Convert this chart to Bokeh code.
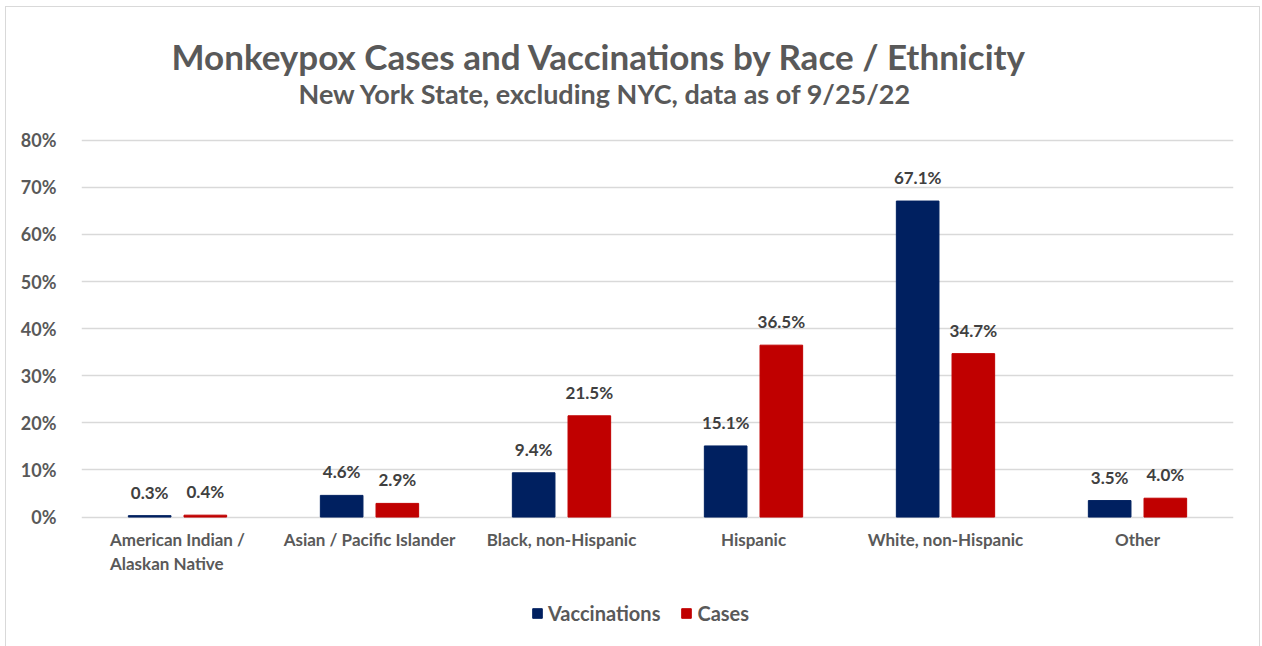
from bokeh.plotting import figure
from bokeh.models import (ColumnDataSource, FactorRange, Range1d, LabelSet, Label, Legend,
                          LegendItem, PrintfTickFormatter, FixedTicker)
from bokeh.core.properties import value
from bokeh.transform import dodge
from bokeh.embed import file_html
from bokeh.resources import INLINE

categories = ["American Indian /\nAlaskan Native", "Asian / Pacific Islander",
              "Black, non-Hispanic", "Hispanic", "White, non-Hispanic", "Other"]
vaccinations = [0.3, 4.6, 9.4, 15.1, 67.1, 3.5]
cases = [0.4, 2.9, 21.5, 36.5, 34.7, 4.0]
y_ticks = [0, 10, 20, 30, 40, 50, 60, 70, 80]
series_names = ["Vaccinations", "Cases"]
title_text = "Monkeypox Cases and Vaccinations by Race / Ethnicity"
subtitle_text = "New York State, excluding NYC, data as of 9/25/22"

FONT = "Lato"
GRAY = "#595959"
NAVY = "#002060"
RED = "#C00000"

src = ColumnDataSource(dict(
    cat=categories,
    vac=vaccinations,
    cas=cases,
    vac_lbl=[f"{v:.1f}%" for v in vaccinations],
    cas_lbl=[f"{v:.1f}%" for v in cases],
))

# the frame spans the full height; axis labels, legend and titles live inside it
p = figure(width=1255, height=640, x_range=FactorRange(*categories, range_padding=0),
           y_range=Range1d(-27.7, 108.2), output_backend="svg", toolbar_location=None,
           x_axis_location=None,
           min_border_left=75, min_border_right=28, min_border_top=0, min_border_bottom=0)
p.margin = (6, 0, 0, 5)
p.styles = {"border-top": "1px solid #d9d9d9", "border-left": "1px solid #d9d9d9",
            "border-right": "1px solid #d9d9d9"}
p.outline_line_color = None

off = 0.145
w = 0.222
r1 = p.vbar(x=dodge("cat", -off, range=p.x_range), top="vac", width=w, source=src,
            fill_color=NAVY, line_color=NAVY)
r2 = p.vbar(x=dodge("cat", off, range=p.x_range), top="cas", width=w, source=src,
            fill_color=RED, line_color=RED)

for col, lbl, d in (("vac", "vac_lbl", -off), ("cas", "cas_lbl", off)):
    ls = LabelSet(x=dodge("cat", d, range=p.x_range), y=col, text=lbl, source=src,
                  text_align="center", text_baseline="bottom", y_offset=13,
                  text_font=value(FONT), text_font_style="bold", text_font_size="17px",
                  text_color="#404040")
    p.add_layout(ls)

# category labels under the zero line
cat_labels = LabelSet(x="cat", y=0, text="cat", source=src,
                      text_align="center", text_baseline="top", y_offset=-12,
                      text_font=value(FONT), text_font_style="bold", text_font_size="17px",
                      text_color=GRAY, text_line_height=1.12)
p.add_layout(cat_labels)

# y axis
p.yaxis.ticker = FixedTicker(ticks=y_ticks)
p.yaxis.formatter = PrintfTickFormatter(format="%d%%")
p.yaxis.axis_line_color = None
p.yaxis.major_tick_line_color = None
p.yaxis.minor_tick_line_color = None
p.yaxis.major_label_standoff = 19
p.yaxis.major_label_text_font = FONT
p.yaxis.major_label_text_font_style = "bold"
p.yaxis.major_label_text_font_size = "18px"
p.yaxis.major_label_text_color = GRAY

p.xgrid.grid_line_color = None
p.ygrid.ticker = FixedTicker(ticks=y_ticks)
p.ygrid.grid_line_color = "#d9d9d9"
p.ygrid.grid_line_width = 1.5

legend = Legend(items=[LegendItem(label=series_names[0], renderers=[r1]),
                       LegendItem(label=series_names[1], renderers=[r2])],
                orientation="horizontal", location=(450, 22),
                label_text_font=FONT, label_text_font_style="bold",
                label_text_font_size="20px", label_text_color=GRAY,
                glyph_width=12, glyph_height=12, label_standoff=5, spacing=20,
                border_line_color=None, background_fill_alpha=0, margin=0, padding=0)
p.add_layout(legend)

main = Label(x=90, y=97.8, x_units="screen", y_units="data", text=title_text,
             text_align="left", text_baseline="middle", text_font=FONT,
             text_font_style="bold", text_font_size="35px", text_color=GRAY)
sub = Label(x=217, y=90.0, x_units="screen", y_units="data", text=subtitle_text,
            text_align="left", text_baseline="middle", text_font=FONT,
            text_font_style="bold", text_font_size="27px", text_color=GRAY)
p.add_layout(main)
p.add_layout(sub)

open("out.html", "w").write(file_html(p, INLINE))
